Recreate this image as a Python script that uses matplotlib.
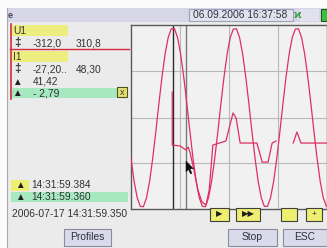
import matplotlib
matplotlib.use('Agg')
import matplotlib.pyplot as plt
from matplotlib.patches import Rectangle, Polygon
import numpy as np

plt.rcParams['font.family'] = ['Liberation Sans', 'DejaVu Sans']

# time in ms, one sample per ms (U1 in V)
t_u1 = list(range(0, 64))
u1 = [-141, -220, -277, -307, -308, -277, -220, -141, -49, 49,
      141, 220, 277, 307, 308, 277, 220, 141, 49, -49,
      -141, -220, -277, -307, -308, -277, -220, -141, -49, 49,
      141, 220, 277, 306, 307, 277, 220, 141, 49, -49,
      -141, -220, -277, -307, -307, -277, -220, -141, -49, 49,
      141, 220, 277, 306, 307, 277, 220, 141, 49, -49,
      -141, -220, -277, -307]

# I1 trace, in display units of the U1 scale (gap = nan)
t_i1 = [13.3, 13.3, 15.8, 17.7, 18.4, 19.0, 20.3, 21.6, 22.9, 24.2, 25.2, 26.4,
        30.6, 32.9, 33.9, 35.2, 40.6, 42.3, 44.2, 45.5, 46.8, 46.9,
        52.3, 53.5, 54.8, 63.2]
i1 = [88, -95, -98, -112, -102, -119, -181, -251, -292, -302, -251, -95,
      -81, 16, -2, -88, -88, -154, -154, -88, -81, np.nan,
      -88, -50, -88, -88]

cursor_a = 13.5
cursor_b = 17.7

upper_rows = [('-312,0', '310,8'), ('-27,20..', '48,30')]
delta_a = '41,42'
delta_b = '- 2,79'
time_a = '14:31:59.384'
time_b = '14:31:59.360'
start_time = '2006-07-17 14:31:59.350'
header_time = '06.09.2006 16:37:58'

W, H = 327, 248
fig = plt.figure(figsize=(W / 100, H / 100), dpi=100)
fig.patch.set_facecolor('#ebebeb')

# plot area
ax = fig.add_axes([131 / W, (H - 209) / H, 196 / W, 184 / H])
ax.set_facecolor('#f1f1f1')
ax.plot(t_u1, u1, color='#de2f62', lw=0.9, zorder=3)
ax.plot(t_i1, i1, color='#de2f62', lw=0.9, zorder=3)
ax.axvline(cursor_a, color='#2a2a2a', lw=1.0, zorder=2)
ax.axvline(cursor_b, color='#7a7a7a', lw=1.0, zorder=2)
ax.set_xlim(0, 63.2)
ax.set_ylim(-316, 320)
ax.set_xticks([15.8, 31.6, 47.4])
ax.set_yticks([-158, 0, 160])
ax.grid(True, color='#b9b9b9', lw=0.8)
ax.tick_params(length=0, labelbottom=False, labelleft=False)
for s in ax.spines.values():
    s.set_color('#5a5a5a')
    s.set_linewidth(1.0)

# ui overlay in pixel coordinates
ui = fig.add_axes([0, 0, 1, 1], zorder=5)
ui.set_xlim(0, W)
ui.set_ylim(H, 0)
ui.axis('off')
ui.patch.set_alpha(0)

def box(x, y, w, h, fc, ec='none', lw=0.8):
    ui.add_patch(Rectangle((x, y), w, h, facecolor=fc, edgecolor=ec, lw=lw))

def txt(x, y, s, size=7.4, ha='left', color='#333333', **kw):
    ui.text(x, y, s, fontsize=size, ha=ha, va='center', color=color, **kw)

# window edge and header
box(0, 0, 7, H, '#fbfbfb')
box(0, 0, W, 8, '#fbfbfb')
ui.plot([7, 7], [8, H], color='#a8a8a8', lw=0.8)
box(7, 8, W - 7, 14, '#d6d6e6')
box(189, 9, 104, 12, '#e2e2ee', '#a0a0b8')
txt(193, 15.5, header_time, color='#303040')
txt(294, 15, 'ϰ', size=8, color='#2a9a3a', fontweight='bold')
box(300, 9, 19, 12, '#e2e2ee')
box(321, 9, 6, 12, '#3cc040', '#1e5a1e')
txt(10, 16, 'e', size=6.5, ha='center', fontweight='bold', color='#404060')

# left panel
ui.plot([10.5, 10.5], [24, 99], color='#d42a3a', lw=1.2)
ui.plot([10, 129], [49, 49], color='#d42a3a', lw=1.0)
box(11.5, 25, 56, 11, '#eeee80')
txt(13, 30.5, 'U1')
box(11.5, 51, 56, 11, '#eeee80')
txt(13, 56.5, 'I1')
for yy, (lo, hi) in zip([43, 69], upper_rows):
    txt(17, yy, '‡', size=8.5, ha='center', fontweight='bold')
    txt(33, yy, lo)
    txt(76, yy, hi)
txt(17, 82, '▲', size=7, ha='center', color='#202020')
txt(33, 82, delta_a)
box(11.5, 88, 105, 10, '#a6e8c0')
txt(17, 93, '▲', size=7, ha='center', color='#202020')
txt(33, 93, delta_b)
box(117, 87, 10, 10, '#e6e070', '#505020')
txt(122, 92.5, 'x', size=6.5, ha='center')

box(11, 180, 18, 11, '#eeee70')
txt(20, 185.5, '▲', size=7, ha='center', color='#202020')
txt(31, 185.5, time_a)
box(11, 192, 117, 10, '#a6e8c0')
txt(20, 197, '▲', size=7, ha='center', color='#202020')
txt(31, 197, time_b)
txt(12, 214, start_time)

# yellow scroll buttons
for x0, w, lab in [(210, 19, '▶'), (236, 24, '▶▶'), (281, 16, ''), (306, 16, '+')]:
    box(x0, 208, w, 13, '#eeee70', '#404040')
    txt(x0 + w / 2, 214.5, lab, size=6, ha='center', color='#202020')

# bottom buttons
for x0, w, lab in [(64, 47, 'Profiles'), (228, 49, 'Stop'), (283, 44, 'ESC')]:
    box(x0, 229, w, 17, '#dadaea', '#8a8aa0')
    txt(x0 + w / 2, 237.5, lab, ha='center', color='#303040')

# mouse pointer
ui.add_patch(Polygon([(186, 161), (186, 172), (188.5, 169.5), (190.5, 174),
                      (192, 173.3), (190, 168.8), (193.5, 168.8)],
                     closed=True, facecolor='#101010', edgecolor='#101010', lw=0.3))

fig.savefig('out.png', dpi=100, facecolor=fig.get_facecolor())
